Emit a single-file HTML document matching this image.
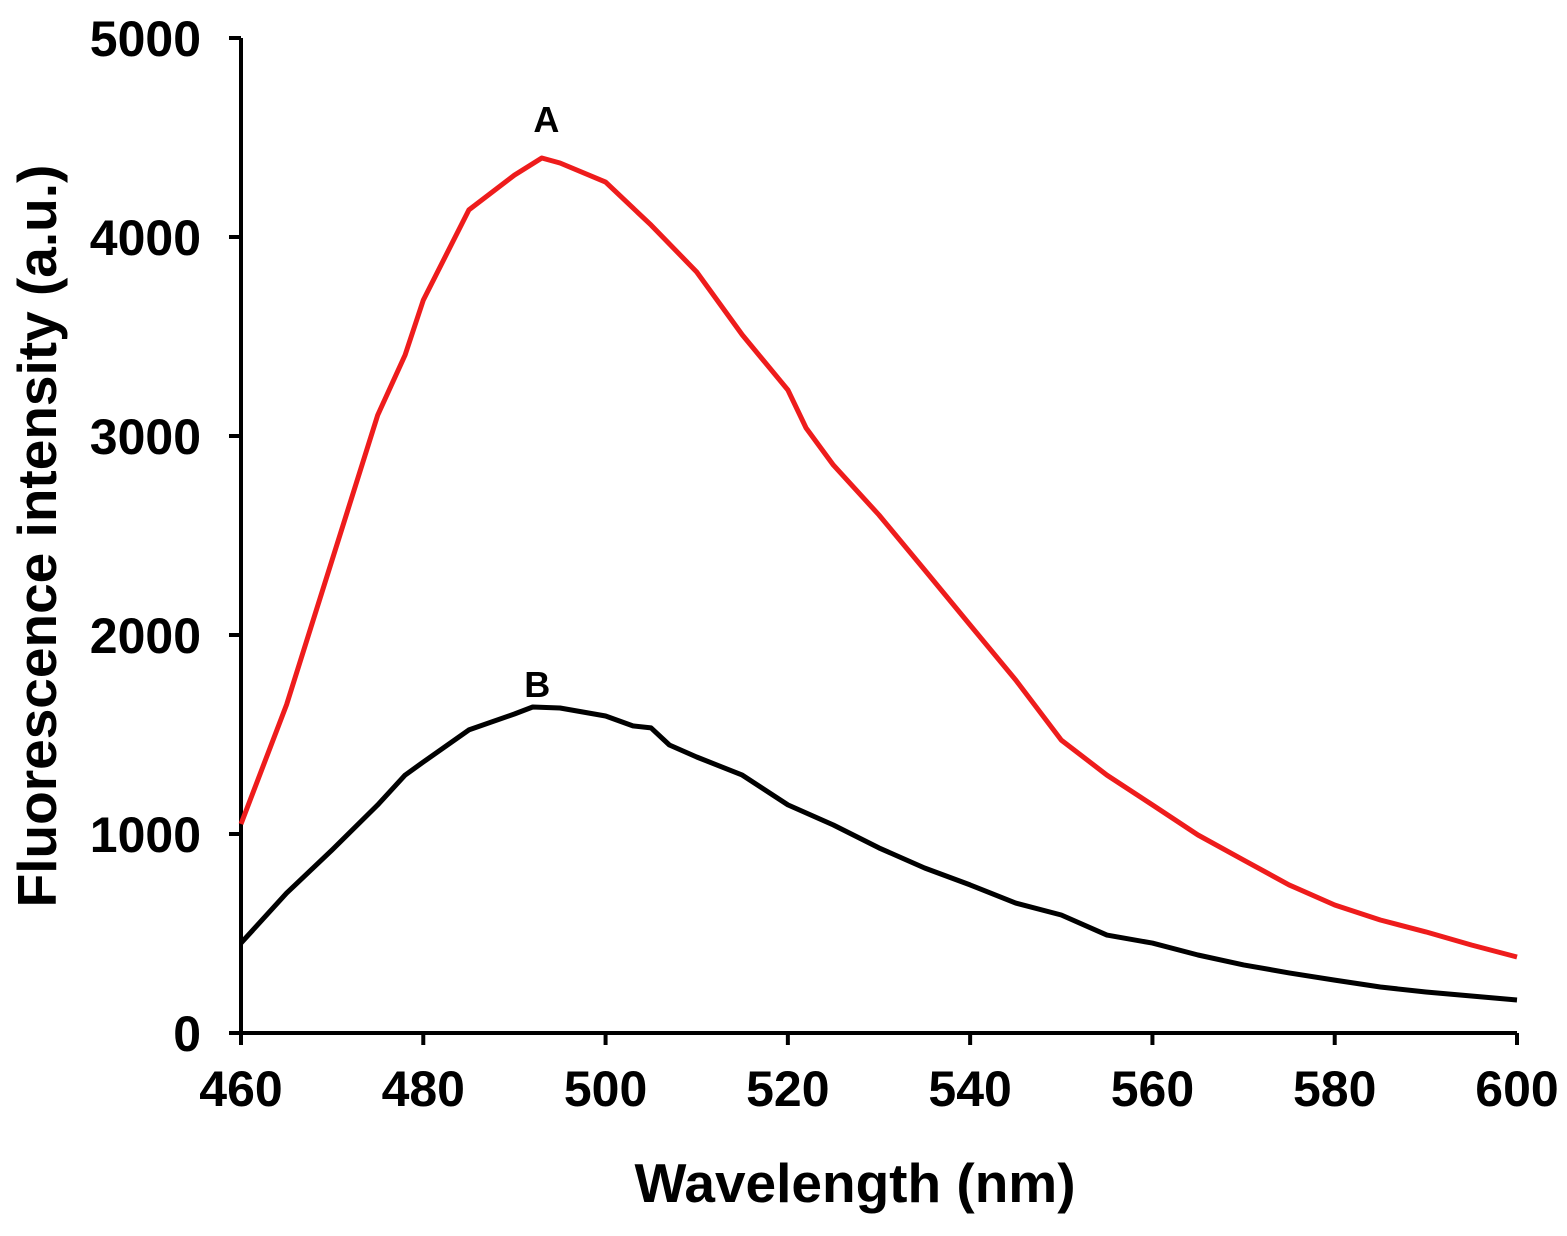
<!DOCTYPE html>
<html><head><meta charset="utf-8"><style>
html,body{margin:0;padding:0;background:#fff;}
svg text{font-family:"Liberation Sans",Arial,sans-serif;font-weight:bold;fill:#000;}
</style></head><body>
<svg id="chart" width="1567" height="1231" viewBox="0 0 1567 1231" xmlns="http://www.w3.org/2000/svg">
<g id="axes"></g>
<g id="series"></g>
<text x="0" y="0" font-size="55" text-anchor="middle" transform="translate(56,536) rotate(-90)">Fluorescence intensity (a.u.)</text>
<text x="855" y="1202" font-size="55" text-anchor="middle">Wavelength (nm)</text>
</svg>
<script>
const xTicks=[460,480,500,520,540,560,580,600];
const yTicks=[0,1000,2000,3000,4000,5000];
const wavelengths=[460,465,470,475,478,480,485,490,493,495,500,505,510,515,520,522,525,530,535,540,545,550,555,560,565,570,575,580,585,590,595,600];
const seriesA=[1050,1650,2377,3105,3407,3683,4136,4311,4397,4372,4276,4060,3824,3508,3231,3040,2854,2603,2327,2050,1774,1472,1296,1146,995,869,744,643,568,508,442,382];
const wavelengthsB=[460,465,470,475,478,480,485,490,492,495,500,503,505,507,510,515,520,525,530,535,540,545,550,555,560,565,570,575,580,585,590,595,600];
const seriesB=[452,703,920,1146,1296,1362,1523,1603,1638,1633,1593,1543,1533,1447,1387,1296,1146,1045,930,829,744,653,593,492,452,392,342,302,266,231,206,186,166];
const x0=241,x1=1517,y0=1033,y1=38;
const X=v=>x0+(v-460)/(600-460)*(x1-x0);
const Y=v=>y0-(v/5000)*(y0-y1);
const NS="http://www.w3.org/2000/svg";
const axes=document.getElementById('axes');
function mk(tag,attrs,parent){const e=document.createElementNS(NS,tag);for(const k in attrs)e.setAttribute(k,attrs[k]);parent.appendChild(e);return e;}
let l=mk('line',{x1:x0,y1:y1,x2:x0,y2:y0+2,stroke:'#000','stroke-width':4},axes);


l=mk('line',{x1:x0-2,y1:y0,x2:x1,y2:y0,stroke:'#000','stroke-width':4},axes);


yTicks.forEach(t=>{
 const tk=mk('line',{x1:x0-12,y1:Y(t),x2:x0,y2:Y(t),stroke:'#000','stroke-width':4},axes);
 
 
 const tx=mk('text',{x:x0-40,y:Y(t)+18,'font-size':50,'text-anchor':'end'},axes);
 tx.textContent=t;
 
 
});
xTicks.forEach(t=>{
 const tk=mk('line',{x1:X(t),y1:y0,x2:X(t),y2:y0+12,stroke:'#000','stroke-width':4},axes);
 
 
 const tx=mk('text',{x:X(t),y:y0+73,'font-size':50,'text-anchor':'middle'},axes);
 tx.textContent=t;
 
 
});
const ser=document.getElementById('series');
function line(xs,ys,color,name){
 const d=xs.map((v,i)=>(i?'L':'M')+X(v).toFixed(1)+','+Y(ys[i]).toFixed(1)).join(' ');
 const p=mk('path',{d:d,fill:'none',stroke:color,'stroke-width':5,'stroke-linejoin':'round'},ser);
 
 
}
line(wavelengths,seriesA,'#ee1c1c','series-a-line');
line(wavelengthsB,seriesB,'#000','series-b-line');
let t=mk('text',{x:X(493.5),y:Y(4397)-26,'font-size':36,'text-anchor':'middle'},ser);
t.textContent='A';


t=mk('text',{x:X(492.5),y:Y(1638)-10,'font-size':36,'text-anchor':'middle'},ser);
t.textContent='B';


</script>
</body></html>
